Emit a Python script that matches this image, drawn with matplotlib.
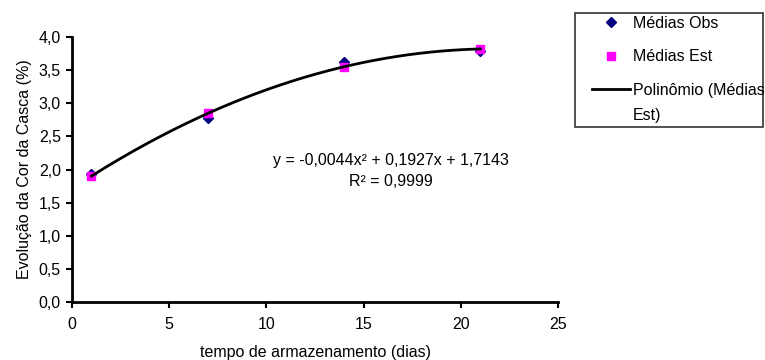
import matplotlib
matplotlib.use("Agg")
import matplotlib.pyplot as plt
from matplotlib.patches import Rectangle
import numpy as np

plt.rcParams['font.family'] = ['Liberation Sans', 'DejaVu Sans']

# dados
dias = [1, 7, 14, 21]
medias_obs = [1.93, 2.78, 3.62, 3.79]
medias_est = [1.90, 2.85, 3.55, 3.82]
yticks = [0.0, 0.5, 1.0, 1.5, 2.0, 2.5, 3.0, 3.5, 4.0]
xticks = [0, 5, 10, 15, 20, 25]

# ajuste polinomial de grau 2 (linha de tendencia)
coef = np.polyfit(dias, medias_est, 2)
xs = np.linspace(dias[0], dias[-1], 200)
ys = np.polyval(coef, xs)

fs = 11.5
W, H = 765, 360

fig = plt.figure(figsize=(7.65, 3.6), dpi=100)
ax = fig.add_axes([72 / W, 1 - 302 / H, 486 / W, 265 / H])

ax.plot(dias, medias_obs, linestyle='none', marker='D', markersize=5,
        color='#000080', label='Médias Obs', zorder=3)
ax.plot(dias, medias_est, linestyle='none', marker='s', markersize=6,
        color='#ff00ff', label='Médias Est', zorder=3)
ax.plot(xs, ys, color='black', linewidth=2, label='Polinômio (Médias', zorder=4)

ax.set_xlim(0, 25)
ax.set_ylim(0, 4.0)
ax.set_xticks(xticks)
ax.set_yticks(yticks)
ax.set_yticklabels([f'{v:.1f}'.replace('.', ',') for v in yticks])
ax.tick_params(direction='out', length=4, width=1.5, labelsize=fs)
ax.tick_params(axis='x', pad=7)
ax.tick_params(axis='y', pad=4)
for s in ['top', 'right']:
    ax.spines[s].set_visible(False)
for s in ['left', 'bottom']:
    ax.spines[s].set_linewidth(2)

ax.set_xlabel('tempo de armazenamento (dias)', fontsize=fs, labelpad=9)
ax.set_ylabel('Evolução da Cor da Casca (%)', fontsize=fs, labelpad=5)

# equacao da linha de tendencia
fig.text(391 / W, 1 - 160 / H, 'y = -0,0044x² + 0,1927x + 1,7143', ha='center',
         va='center', fontsize=fs)
fig.text(391 / W, 1 - 182 / H, 'R² = 0,9999', ha='center', va='center', fontsize=fs)

# legenda com moldura propria
fig.patches.append(Rectangle((575 / W, 1 - 127 / H), 188 / W, 114 / H,
                             transform=fig.transFigure, fill=False,
                             edgecolor='#333333', linewidth=1.2))
leg = fig.legend(loc='upper left', bbox_to_anchor=(592 / W, 1 - 16 / H), fontsize=fs,
                 frameon=False, borderpad=0, borderaxespad=0,
                 labelspacing=1.15, handlelength=2.4, handletextpad=0.15)

fig.canvas.draw()
bb = leg.get_texts()[2].get_window_extent()
fig.text(bb.x0 / W, (bb.y0 + bb.y1) / 2 / H - 25 / H, 'Est)', ha='left', va='center',
         fontsize=fs)

fig.savefig('out.png', dpi=100)
